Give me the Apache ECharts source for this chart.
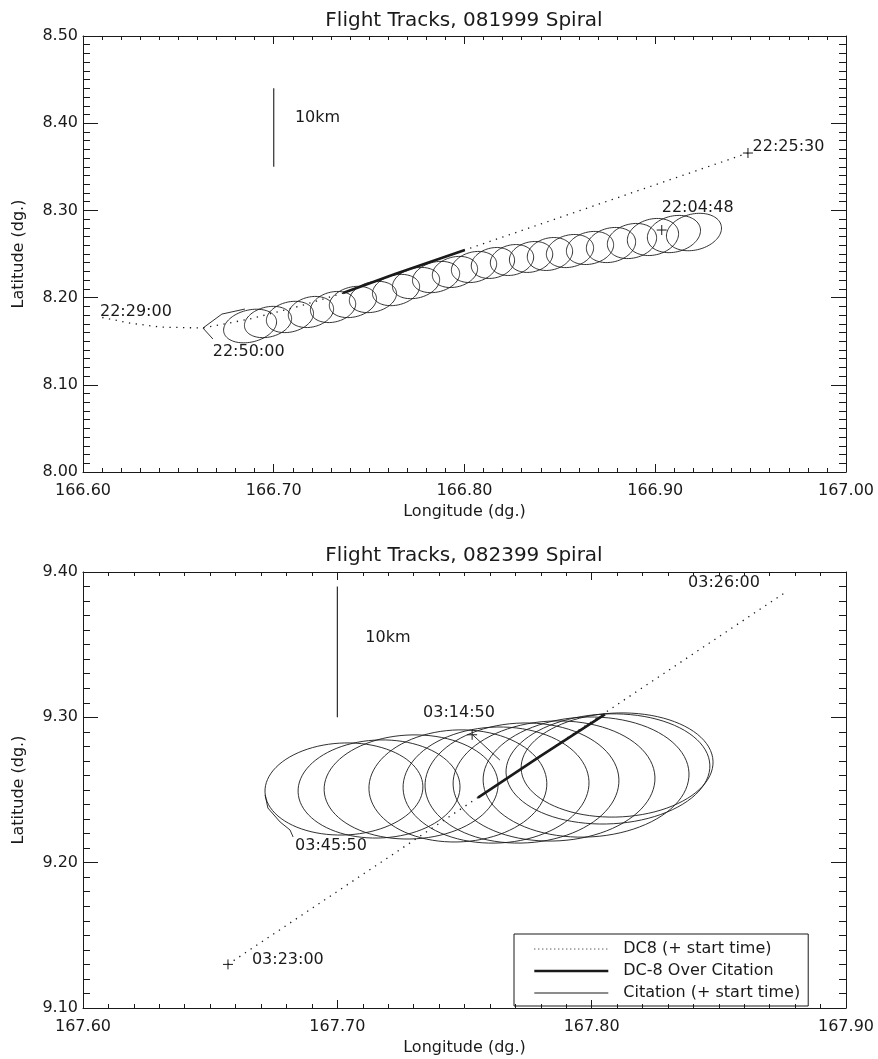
<!DOCTYPE html>
<html>
<head>
<meta charset="utf-8">
<script src="https://cdn.jsdelivr.net/npm/echarts@6/dist/echarts.min.js"></script>
<style>
  html, body { margin: 0; padding: 0; background: #fff; }
  #chart { width: 878px; height: 1059px; }
</style>
</head>
<body>
<div id="chart"></div>
<script>
// ---------- 081999 spiral (upper panel) ----------
// DC-8 track, lon/lat in degrees, from 22:25:30 (east) to 22:29:00 (west)
const dc8Track1 = [
  [166.9486, 8.3658], [166.8002, 8.2546], [166.7363, 8.2052], [166.7137, 8.1903],
  [166.6875, 8.1755], [166.6629, 8.1651], [166.6404, 8.1662], [166.6246, 8.1708],
  [166.6089, 8.1777]
];
// part of the DC-8 track flown directly over the Citation
const dc8Over1 = [[166.8002, 8.2546], [166.7636, 8.2270], [166.7363, 8.2052]];
// Citation spiral turns: centre lon, centre lat, half-width (deg lon), half-height (deg lat)
const citationLoops1 = [
  [166.6876, 8.1674, 0.01415, 0.01835],
  [166.6970, 8.1720, 0.01258, 0.01720],
  [166.7085, 8.1778, 0.01258, 0.01720],
  [166.7195, 8.1835, 0.01206, 0.01720],
  [166.7311, 8.1892, 0.01206, 0.01720],
  [166.7415, 8.1950, 0.01258, 0.01720],
  [166.7520, 8.2007, 0.01258, 0.01720],
  [166.7641, 8.2087, 0.01258, 0.01720],
  [166.7746, 8.2167, 0.01258, 0.01720],
  [166.7851, 8.2236, 0.01258, 0.01720],
  [166.7950, 8.2294, 0.01206, 0.01720],
  [166.8050, 8.2351, 0.01206, 0.01720],
  [166.8149, 8.2397, 0.01153, 0.01720],
  [166.8249, 8.2431, 0.01153, 0.01720],
  [166.8349, 8.2466, 0.01153, 0.01720],
  [166.8448, 8.2500, 0.01206, 0.01835],
  [166.8553, 8.2534, 0.01258, 0.01835],
  [166.8658, 8.2569, 0.01258, 0.01835],
  [166.8768, 8.2603, 0.01311, 0.01950],
  [166.8878, 8.2649, 0.01311, 0.01950],
  [166.8988, 8.2695, 0.01363, 0.02064],
  [166.9098, 8.2729, 0.01415, 0.02064],
  [166.9203, 8.2752, 0.01468, 0.02064]
];
// last stretch of the Citation track, ending at 22:50:00
const citationEnd1 = [[166.6681, 8.1525], [166.6629, 8.1651], [166.6728, 8.1811], [166.6849, 8.1869]];
// start positions (+)
const starts1 = [[166.9486, 8.3658], [166.9034, 8.2775]];
// time annotations: text, lon, lat of the text's left edge
const timeLabels1 = [
  ['22:25:30', 166.9510, 8.3727],
  ['22:04:48', 166.9034, 8.3027],
  ['22:29:00', 166.6089, 8.1834],
  ['22:50:00', 166.6680, 8.1375]
];
const scaleBar1 = [[166.70, 8.35], [166.70, 8.44]];
const scaleLabel1 = [['10km', 166.7111, 8.406]];

// ---------- 082399 spiral (lower panel) ----------
const dc8Track2 = [[167.657, 9.130], [167.877, 9.387]];
const dc8Over2 = [[167.7553, 9.2448], [167.7800, 9.2735], [167.8052, 9.3020]];
const citationLoops2 = [
  [167.7026, 9.2507, 0.03106, 0.03165],
  [167.7164, 9.2507, 0.03185, 0.03372],
  [167.7290, 9.2521, 0.03421, 0.03578],
  [167.7474, 9.2528, 0.03499, 0.03853],
  [167.7624, 9.2534, 0.03657, 0.03991],
  [167.7726, 9.2548, 0.03814, 0.04128],
  [167.7852, 9.2562, 0.03971, 0.04128],
  [167.7978, 9.2589, 0.04050, 0.04128],
  [167.8064, 9.2645, 0.04010, 0.03784],
  [167.8100, 9.2672, 0.03775, 0.03578]
];
const citationStart2 = [[167.7533, 9.2878], [167.7639, 9.2706]];
const citationEnd2 = [[167.6716, 9.2466], [167.6727, 9.2376], [167.6775, 9.2280], [167.6814, 9.2225], [167.6826, 9.2177]];
const starts2 = [[167.657, 9.130], [167.753, 9.288]];
const timeLabels2 = [
  ['03:26:00', 167.8379, 9.3924],
  ['03:14:50', 167.7337, 9.3030],
  ['03:45:50', 167.6834, 9.2115],
  ['03:23:00', 167.6664, 9.1330]
];
const scaleBar2 = [[167.70, 9.30], [167.70, 9.39]];
const scaleLabel2 = [['10km', 167.711, 9.355]];

const titles = ['Flight Tracks, 081999 Spiral', 'Flight Tracks, 082399 Spiral'];
const legendNames = ['DC8 (+ start time)', 'DC-8 Over Citation', 'Citation (+ start time)'];

// ---------- styling helpers ----------
const FONT = 'DejaVu Sans';
const INK = '#1a1a1a';
const PLUS = 'path://M0,5L10,5M5,0L5,10';

const chart = echarts.init(document.getElementById('chart'), null, { renderer: 'canvas' });

function xAxis(gridIndex, min, max, position, main) {
  return {
    type: 'value', gridIndex, min, max, interval: 0.1, position,
    name: main ? 'Longitude (dg.)' : '', nameLocation: 'middle', nameGap: 32,
    nameTextStyle: { fontFamily: FONT, fontSize: 16, color: INK },
    axisLine: { show: true, onZero: false, lineStyle: { color: INK, width: 1 } },
    axisTick: { show: true, inside: true, length: 8, lineStyle: { color: INK, width: 1 } },
    minorTick: { show: true, splitNumber: 10, length: 4, lineStyle: { color: INK, width: 1 } },
    axisLabel: { show: main, margin: 11, fontFamily: FONT, fontSize: 16, color: INK,
      formatter: v => v.toFixed(2) },
    splitLine: { show: false }, minorSplitLine: { show: false }
  };
}
function yAxis(gridIndex, min, max, position, main) {
  return {
    type: 'value', gridIndex, min, max, interval: 0.1, position,
    name: main ? 'Latitude (dg.)' : '', nameLocation: 'middle', nameGap: 56,
    nameTextStyle: { fontFamily: FONT, fontSize: 16, color: INK },
    axisLine: { show: true, onZero: false, lineStyle: { color: INK, width: 1 } },
    axisTick: { show: true, inside: true, length: 15, lineStyle: { color: INK, width: 1 } },
    minorTick: { show: true, splitNumber: 10, length: 7, lineStyle: { color: INK, width: 1 } },
    axisLabel: { show: main, margin: 5, fontFamily: FONT, fontSize: 16, color: INK,
      formatter: v => v.toFixed(2) },
    splitLine: { show: false }, minorSplitLine: { show: false }
  };
}

// Each Citation turn is drawn as a closed ellipse around its centre, through the axis scales.
function loopRenderer(tilt) {
  const ca = Math.cos(tilt), sa = Math.sin(tilt);
  return function (params, api) {
    const c = api.coord([api.value(0), api.value(1)]);
    const s = api.size([api.value(2), api.value(3)]);
    const pts = [];
    for (let k = 0; k <= 90; k++) {
      const t = k / 90 * Math.PI * 2;
      const ex = s[0] * Math.cos(t), ey = s[1] * Math.sin(t);
      pts.push([c[0] + ex * ca - ey * sa, c[1] + ex * sa + ey * ca]);
    }
    return { type: 'polyline', shape: { points: pts },
      style: { stroke: INK, lineWidth: 0.9, fill: null } };
  };
}

function panelSeries(p, d) {
  const ax = { xAxisIndex: p * 2, yAxisIndex: p * 2 };
  const thin = { color: INK, width: 0.9 };
  const dot = { color: INK };
  return [
    Object.assign({ type: 'line', name: legendNames[0], data: d.dc8, symbol: 'none', silent: true,
      itemStyle: dot, lineStyle: { color: INK, width: 1.3, type: [1.3, 5.5] }, z: 2 }, ax),
    Object.assign({ type: 'line', name: legendNames[1], data: d.over, symbol: 'none', silent: true,
      itemStyle: dot, lineStyle: { color: INK, width: 2.6 }, z: 4 }, ax),
    Object.assign({ type: 'line', name: legendNames[2], data: d.tail, symbol: 'none', silent: true,
      itemStyle: dot, lineStyle: thin, z: 3 }, ax),
    Object.assign({ type: 'line', name: 'Citation tail', data: d.tail2, symbol: 'none', silent: true,
      itemStyle: dot, lineStyle: thin, z: 3 }, ax),
    Object.assign({ type: 'custom', name: 'Citation loops', data: d.loops, encode: { x: 0, y: 1 },
      renderItem: loopRenderer(d.tilt), silent: true, z: 3 }, ax),
    Object.assign({ type: 'scatter', name: 'starts', data: d.starts, symbol: PLUS, symbolSize: 10,
      itemStyle: { color: 'rgba(0,0,0,0)', borderColor: INK, borderWidth: 1, opacity: 1 },
      silent: true, z: 5 }, ax),
    Object.assign({ type: 'line', name: 'scale', data: d.bar, symbol: 'none', silent: true,
      lineStyle: { color: INK, width: 1.1 }, z: 2 }, ax),
    Object.assign({ type: 'scatter', name: 'notes',
      data: d.notes.map(n => [n[1], n[2], n[0]]), symbolSize: 0, silent: true, z: 6,
      itemStyle: { opacity: 1 },
      label: { show: true, position: 'right', distance: 0, formatter: q => q.value[2],
        fontFamily: FONT, fontSize: 16, color: INK, opacity: 1 } }, ax)
  ];
}

const option = {
  backgroundColor: '#fff',
  animation: false,
  grid: [
    { left: 83, top: 36, width: 763, height: 436 },
    { left: 83, top: 572, width: 763, height: 436 }
  ],
  xAxis: [
    xAxis(0, 166.6, 167.0, 'bottom', true), xAxis(0, 166.6, 167.0, 'top', false),
    xAxis(1, 167.6, 167.9, 'bottom', true), xAxis(1, 167.6, 167.9, 'top', false)
  ],
  yAxis: [
    yAxis(0, 8.0, 8.5, 'left', true), yAxis(0, 8.0, 8.5, 'right', false),
    yAxis(1, 9.1, 9.4, 'left', true), yAxis(1, 9.1, 9.4, 'right', false)
  ],
  graphic: [
    { type: 'text', x: 464, y: 21, silent: true,
      style: { text: titles[0], align: 'center', verticalAlign: 'middle',
        font: '20px "' + FONT + '"', fill: INK } },
    { type: 'text', x: 464, y: 556, silent: true,
      style: { text: titles[1], align: 'center', verticalAlign: 'middle',
        font: '20px "' + FONT + '"', fill: INK } }
  ],
  legend: {
    left: 514, top: 934, orient: 'vertical', selectedMode: false,
    padding: [7, 8, 5, 19], itemGap: 6, itemWidth: 74, itemHeight: 14,
    borderColor: INK, borderWidth: 1,
    itemStyle: { opacity: 0 },
    textStyle: { fontFamily: FONT, fontSize: 16, color: INK, padding: [0, 0, 0, 10] },
    data: [
      { name: legendNames[0], lineStyle: { type: [1, 3], width: 1 } },
      { name: legendNames[1], lineStyle: { width: 2.6 } },
      { name: legendNames[2], lineStyle: { width: 1 } }
    ]
  },
  series: [
    ...panelSeries(0, { dc8: dc8Track1, over: dc8Over1, tail: citationEnd1, tail2: [],
      loops: citationLoops1, tilt: -0.24, starts: starts1, bar: scaleBar1,
      notes: timeLabels1.concat(scaleLabel1) }),
    ...panelSeries(1, { dc8: dc8Track2, over: dc8Over2, tail: citationStart2, tail2: citationEnd2,
      loops: citationLoops2, tilt: -0.04, starts: starts2, bar: scaleBar2,
      notes: timeLabels2.concat(scaleLabel2) })
  ]
};
chart.setOption(option);
</script>
</body>
</html>
